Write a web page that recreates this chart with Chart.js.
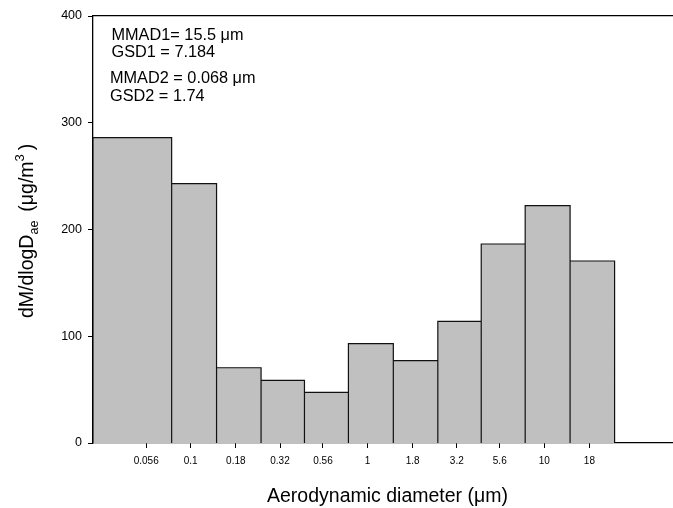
<!DOCTYPE html>
<html>
<head>
<meta charset="utf-8">
<script src="https://cdn.jsdelivr.net/npm/chart.js@4"></script>
<style>
  body { margin: 0; background: #fff; }
  #wrap { width: 673px; height: 508px; }
</style>
</head>
<body>
<div id="wrap"><canvas id="sizeDistChart"></canvas></div>
<script>
// impactor stage labels on the x axis
const tickVals = [0.056, 0.1, 0.18, 0.32, 0.56, 1, 1.8, 3.2, 5.6, 10, 18];
const tickLabels = ['0.056', '0.1', '0.18', '0.32', '0.56', '1', '1.8', '3.2', '5.6', '10', '18'];
// bin edges (um) and dM/dlogDae per bin (ug/m3)
const binEdges = [0.028, 0.078, 0.14, 0.25, 0.44, 0.78, 1.4, 2.5, 4.4, 7.8, 14, 25];
const massConc = [286, 243, 70.5, 58.7, 47.5, 93, 77.1, 114, 186.4, 222.3, 170.5];
const yTicks = [0, 100, 200, 300, 400];
const fitText = ['MMAD1= 15.5 \u03bcm', 'GSD1 = 7.184', 'MMAD2 = 0.068 \u03bcm', 'GSD2 = 1.74'];

const FONT = '"Liberation Sans", Arial, Helvetica, sans-serif';

// outline of the histogram: up, across, down for each bin
const histPoints = [];
massConc.forEach(function (v, i) {
    histPoints.push({x: binEdges[i], y: 0});
    histPoints.push({x: binEdges[i], y: v});
    histPoints.push({x: binEdges[i + 1], y: v});
});
histPoints.push({x: binEdges[binEdges.length - 1], y: 0});

const textPlugin = {
    id: 'textPlugin',
    afterDraw: function (chart) {
        const ctx = chart.ctx;
        const area = chart.chartArea;
        ctx.save();
        ctx.fillStyle = '#000';
        ctx.textBaseline = 'alphabetic';
        ctx.textAlign = 'left';

        // fit results
        ctx.font = '16.3px ' + FONT;
        ctx.fillText(fitText[0], area.left + 18.5, area.top + 24);
        ctx.fillText(fitText[1], area.left + 18.5, area.top + 41.3);
        ctx.fillText(fitText[2], area.left + 17, area.top + 67.3);
        ctx.fillText(fitText[3], area.left + 17, area.top + 84.7);

        // x title
        ctx.font = '19.5px ' + FONT;
        ctx.textAlign = 'center';
        ctx.fillText('Aerodynamic diameter (\u03bcm)', 387.5, 502);

        // y title with sub/superscript
        ctx.textAlign = 'left';
        ctx.translate(33, 318);
        ctx.rotate(-Math.PI / 2);
        let w = 0;
        ctx.font = '19.5px ' + FONT;
        ctx.fillText('dM/dlogD', w, 0);
        w += ctx.measureText('dM/dlogD').width;
        ctx.font = '12.5px ' + FONT;
        ctx.fillText('ae', w, 5);
        w += ctx.measureText('ae').width + 9;
        ctx.font = '19.5px ' + FONT;
        ctx.fillText('(\u03bcg/m', w, 0);
        w += ctx.measureText('(\u03bcg/m').width;
        ctx.font = '13px ' + FONT;
        ctx.fillText('3', w, -9);
        w += ctx.measureText('3').width + 4;
        ctx.font = '19.5px ' + FONT;
        ctx.fillText(')', w, 0);
        ctx.restore();
    }
};

new Chart(document.getElementById('sizeDistChart'), {
    type: 'line',
    data: {
        datasets: [{
            data: histPoints,
            xAxisID: 'x',
            yAxisID: 'y',
            borderColor: '#111',
            borderWidth: 1.2,
            backgroundColor: '#c0c0c0',
            fill: 'origin',
            tension: 0,
            pointRadius: 0
        }]
    },
    options: {
        responsive: true,
        maintainAspectRatio: false,
        animation: false,
        layout: { padding: { top: 16, left: 0, right: 0, bottom: 0 } },
        plugins: {
            legend: { display: false },
            tooltip: { enabled: false }
        },
        scales: {
            x: {
                type: 'logarithmic',
                min: 0.028,
                max: 53.5,
                afterBuildTicks: function (scale) {
                    scale.ticks = tickVals.map(function (v) { return {value: v}; });
                },
                afterFit: function (scale) { scale.height = 65; },
                ticks: {
                    autoSkip: false,
                    maxRotation: 0,
                    padding: 7,
                    color: '#000',
                    font: { size: 10, family: FONT },
                    callback: function (value, index) { return tickLabels[index]; }
                },
                grid: { drawOnChartArea: false, tickLength: 5, tickColor: '#000' },
                border: { color: '#000', width: 1.3 }
            },
            xTop: {
                type: 'linear',
                position: 'top',
                ticks: { display: false },
                grid: { display: false, drawTicks: false },
                border: { display: true, color: '#000', width: 1.3 },
                afterFit: function (scale) { scale.height = 0; }
            },
            y: {
                min: 0,
                max: 400,
                afterBuildTicks: function (scale) {
                    scale.ticks = yTicks.map(function (v) { return {value: v}; });
                },
                afterFit: function (scale) { scale.width = 93; },
                ticks: {
                    padding: 6,
                    color: '#000',
                    font: { size: 12.5, family: FONT }
                },
                grid: { drawOnChartArea: false, tickLength: 5, tickColor: '#000' },
                border: { color: '#000', width: 1.3 }
            }
        }
    },
    plugins: [textPlugin]
});
</script>
</body>
</html>
